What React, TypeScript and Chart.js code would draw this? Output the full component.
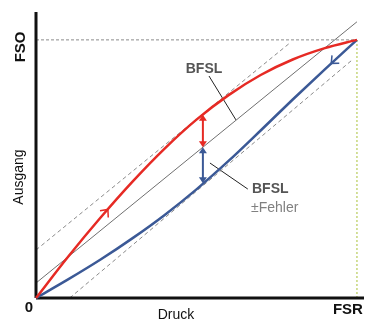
import React, { useEffect, useRef } from 'react';
import { Chart, registerables } from 'chart.js';

Chart.register(...registerables);

// Measured curve (rising pressure, red) – x: pressure fraction of FSR, y: output fraction of FSO
const redX = [0, 0.1, 0.2, 0.3, 0.4, 0.5, 0.6, 0.7, 0.8, 0.9, 1];
const redY = [0, 0.16, 0.31, 0.45, 0.578, 0.691, 0.786, 0.864, 0.924, 0.968, 1];

// Measured curve (falling pressure, blue)
const blueX = [0, 0.1, 0.2, 0.3, 0.4, 0.5, 0.6, 0.7, 0.8, 0.9, 1];
const blueY = [0, 0.072, 0.148, 0.231, 0.321, 0.421, 0.531, 0.649, 0.769, 0.886, 1];

// Best fit straight line and its error band
const bfslX = [0, 1];
const bfslY = [0.058, 1.07];
const upperX = [0, 0.791];
const upperY = [0.186, 0.988];
const lowerX = [0.105, 0.984];
const lowerY = [0, 0.921];

// Reference lines (full scale)
const fsoX = [0, 1];
const fsoY = [1, 1];
const fsrX = [1, 1];
const fsrY = [0, 1];

// Axes extents
const axisXMax = 1.022;
const axisYMax = 1.108;

// Leader lines of the labels
const lead1X = [0.539, 0.623];
const lead1Y = [0.86, 0.69];
const lead2X = [0.542, 0.66];
const lead2Y = [0.523, 0.422];

// Deviation arrows at x = 0.52
const devX = 0.52;
const devRed = [0.71, 0.584];
const devBlue = [0.584, 0.445];

// Direction chevrons on the curves: [tipX, tipY, backX, backY]
const redChevron = [0.224, 0.343, 0.187, 0.287];
const blueChevron = [0.92, 0.909, 0.96, 0.955];

// Text labels
const xTickLabels = ['0', 'FSR'];
const yTickLabel = 'FSO';
const xTitle = 'Druck';
const yTitle = 'Ausgang';
const bfslLabel = 'BFSL';
const errLabel = '±Fehler';

const RED = '#e62a24';
const BLUE = '#3b5996';
const FONT = '"Liberation Sans", Arial, Helvetica, sans-serif';

const pts = (xs: number[], ys: number[]) => xs.map((x, i) => ({ x, y: ys[i] }));

const drawPlugin = {
  id: 'annotations',
  afterDatasetsDraw(chart: any) {
    const { ctx, scales } = chart;
    const xs = scales.x;
    const ys = scales.y;
    const px = (v: number) => xs.getPixelForValue(v);
    const py = (v: number) => ys.getPixelForValue(v);

    // double arrows
    const dbl = (x: number, y1: number, y2: number, color: string) => {
      const X = px(x);
      const Y1 = py(y1);
      const Y2 = py(y2);
      const h = 6;
      const w = 4;
      ctx.save();
      ctx.strokeStyle = color;
      ctx.fillStyle = color;
      ctx.lineWidth = 2;
      ctx.beginPath();
      ctx.moveTo(X, Y1 + h - 1);
      ctx.lineTo(X, Y2 - h + 1);
      ctx.stroke();
      ctx.beginPath();
      ctx.moveTo(X, Y1);
      ctx.lineTo(X - w, Y1 + h);
      ctx.lineTo(X + w, Y1 + h);
      ctx.closePath();
      ctx.fill();
      ctx.beginPath();
      ctx.moveTo(X, Y2);
      ctx.lineTo(X - w, Y2 - h);
      ctx.lineTo(X + w, Y2 - h);
      ctx.closePath();
      ctx.fill();
      ctx.restore();
    };
    dbl(devX, devRed[0], devRed[1], RED);
    dbl(devX, devBlue[0], devBlue[1], BLUE);

    // chevrons
    const chev = (c: number[], color: string) => {
      const tx = px(c[0]);
      const ty = py(c[1]);
      const bx = px(c[2]);
      const by = py(c[3]);
      const ang = Math.atan2(by - ty, bx - tx);
      const len = 8;
      const spread = (42 * Math.PI) / 180;
      ctx.save();
      ctx.strokeStyle = color;
      ctx.lineWidth = 1.5;
      ctx.beginPath();
      ctx.moveTo(tx + len * Math.cos(ang - spread), ty + len * Math.sin(ang - spread));
      ctx.lineTo(tx, ty);
      ctx.lineTo(tx + len * Math.cos(ang + spread), ty + len * Math.sin(ang + spread));
      ctx.stroke();
      ctx.restore();
    };
    chev(redChevron, RED);
    chev(blueChevron, BLUE);
  },
  afterDraw(chart: any) {
    const { ctx, scales } = chart;
    const xs = scales.x;
    const ys = scales.y;
    const x0 = xs.getPixelForValue(0);
    const x1 = xs.getPixelForValue(1);
    const y0 = ys.getPixelForValue(0);
    const y1 = ys.getPixelForValue(1);
    ctx.save();
    ctx.textBaseline = 'middle';
    ctx.textAlign = 'center';
    ctx.fillStyle = '#111';

    ctx.font = `bold 15px ${FONT}`;
    ctx.fillText(xTickLabels[0], x0 - 7, y0 + 10);
    ctx.fillText(xTickLabels[1], x1 - 9, y0 + 12);

    ctx.save();
    ctx.translate(x0 - 15, y1 + 7);
    ctx.rotate(-Math.PI / 2);
    ctx.fillText(yTickLabel, 0, 0);
    ctx.restore();

    ctx.font = `14px ${FONT}`;
    ctx.fillText(xTitle, 176, y0 + 17);
    ctx.save();
    ctx.translate(x0 - 17, 177);
    ctx.rotate(-Math.PI / 2);
    ctx.fillText(yTitle, 0, 0);
    ctx.restore();

    ctx.fillStyle = '#555';
    ctx.font = `bold 14px ${FONT}`;
    ctx.fillText(bfslLabel, 204, 69);
    ctx.textAlign = 'left';
    ctx.fillText(bfslLabel, 252, 189);
    ctx.fillStyle = '#808080';
    ctx.font = `14px ${FONT}`;
    ctx.fillText(errLabel, 251, 208);
    ctx.restore();
  },
};

export default function App() {
  const ref = useRef<HTMLCanvasElement | null>(null);

  useEffect(() => {
    if (!ref.current) return;
    const line = (data: any[], color: string, width: number, dash: number[] = []) => ({
      data,
      borderColor: color,
      borderWidth: width,
      borderDash: dash,
      pointRadius: 0,
      fill: false,
      tension: 0,
      clip: false as any,
    });
    const chart = new Chart(ref.current, {
      type: 'line',
      data: {
        datasets: [
          { ...line(pts(redX, redY), RED, 2.5), cubicInterpolationMode: 'monotone' },
          { ...line(pts(blueX, blueY), BLUE, 2.5), cubicInterpolationMode: 'monotone' },
          line(pts([0, axisXMax], [0, 0]), '#111', 3),
          line(pts([0, 0], [0, axisYMax]), '#111', 3),
          line(pts(bfslX, bfslY), '#6f6f6f', 1),
          line(pts(upperX, upperY), '#8a8a8a', 1, [4, 3]),
          line(pts(lowerX, lowerY), '#8a8a8a', 1, [4, 3]),
          line(pts(fsoX, fsoY), '#8a8a8a', 1, [3, 2]),
          line(pts(fsrX, fsrY), '#c6d67a', 1.5, [2, 2]),
          line(pts(lead1X, lead1Y), '#222', 1),
          line(pts(lead2X, lead2Y), '#222', 1),
        ] as any,
      },
      options: {
        responsive: false,
        animation: false,
        devicePixelRatio: 1,
        layout: { padding: { left: 36, right: 1, top: 12, bottom: 24 } },
        plugins: { legend: { display: false }, tooltip: { enabled: false } },
        events: [],
        scales: {
          x: { type: 'linear', min: 0, max: axisXMax, display: false },
          y: { type: 'linear', min: 0, max: axisYMax, display: false },
        },
      },
      plugins: [drawPlugin],
    });
    return () => chart.destroy();
  }, []);

  return (
    <div style={{ position: 'fixed', left: 0, top: 0, width: 365, height: 322, background: '#fff' }}>
      <canvas ref={ref} width={365} height={322} />
    </div>
  );
}
